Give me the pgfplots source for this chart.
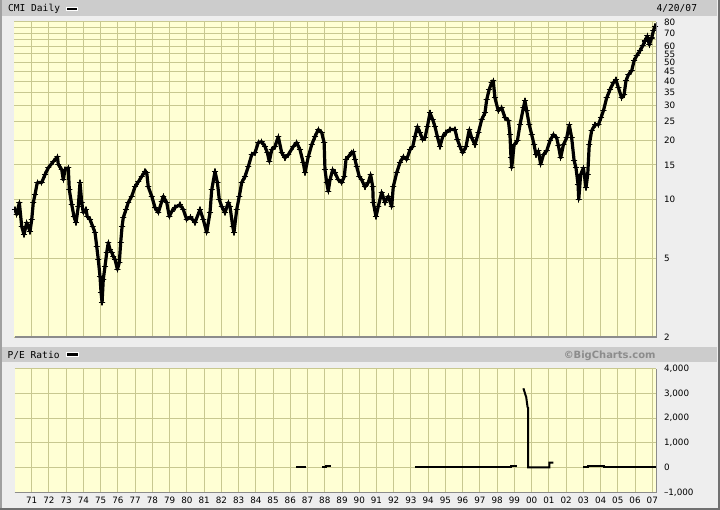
\documentclass[border=0pt]{standalone}
\usepackage{pgfplots}
\pgfplotsset{compat=1.18}
\usepackage{pgfplotstable}
\usepackage{fontspec}
\setmainfont{DejaVu Sans}
\newfontfamily\monofont{DejaVu Sans Mono}
\definecolor{bgcol}{HTML}{EEEEEE}
\definecolor{barcol}{HTML}{CCCCCC}
\definecolor{plotbg}{HTML}{FFFFD4}
\definecolor{gridcol}{HTML}{C8C890}
\definecolor{framecol}{HTML}{8C8C8C}
\definecolor{lborder}{HTML}{A0A0A0}
\definecolor{dborder}{HTML}{707070}
\definecolor{credit}{HTML}{8C8C8C}
\newcommand{\tickfont}{\fontsize{8.8}{10}\selectfont}

\pgfplotstableread{
year price
1970.03 8.90
1970.13 8.39
1970.28 9.66
1970.42 7.29
1970.55 6.64
1970.71 7.64
1970.90 6.88
1971.00 7.92
1971.09 9.66
1971.19 10.6
1971.32 12.2
1971.58 12.2
1971.77 13.4
1971.96 14.5
1972.25 15.6
1972.49 16.5
1972.54 15.1
1972.74 14.2
1972.83 12.6
1972.93 14.2
1973.12 14.5
1973.18 11.2
1973.32 9.43
1973.45 8.20
1973.57 7.64
1973.70 9.21
1973.80 12.2
1973.90 9.66
1973.99 8.59
1974.15 8.90
1974.22 8.20
1974.38 7.92
1974.54 7.29
1974.67 6.80
1974.77 5.77
1974.86 4.96
1974.96 4.06
1975.02 3.37
1975.08 3.00
1975.15 3.93
1975.25 4.57
1975.35 5.38
1975.44 6.05
1975.54 5.57
1975.64 5.38
1975.73 5.14
1975.83 4.96
1975.97 4.41
1976.08 4.79
1976.16 6.05
1976.24 7.29
1976.31 8.10
1976.47 8.90
1976.60 9.66
1976.80 10.4
1976.99 11.6
1977.18 12.3
1977.38 13.1
1977.57 13.9
1977.67 13.7
1977.76 11.6
1977.96 10.4
1978.15 9.11
1978.34 8.59
1978.54 9.77
1978.63 10.4
1978.83 9.66
1978.98 8.20
1979.12 8.69
1979.31 9.11
1979.60 9.43
1979.79 8.90
1979.99 7.92
1980.20 8.15
1980.47 7.64
1980.76 8.90
1980.95 7.92
1981.15 6.80
1981.34 8.59
1981.44 11.2
1981.63 13.9
1981.77 12.2
1981.88 10.0
1982.02 9.21
1982.21 8.59
1982.40 9.66
1982.50 9.21
1982.66 7.29
1982.73 6.80
1982.89 8.90
1983.04 10.4
1983.18 12.2
1983.37 13.1
1983.56 14.7
1983.76 16.9
1983.95 17.3
1984.14 19.5
1984.34 19.7
1984.53 18.6
1984.67 17.3
1984.78 15.6
1984.92 17.9
1985.11 18.6
1985.30 20.9
1985.50 17.3
1985.69 16.3
1985.88 16.9
1986.17 18.6
1986.37 19.5
1986.56 17.9
1986.75 15.4
1986.85 13.7
1987.04 16.5
1987.24 19.0
1987.43 20.9
1987.62 22.7
1987.82 21.9
1987.96 19.5
1988.01 14.2
1988.11 12.2
1988.20 11.0
1988.30 12.6
1988.46 14.2
1988.59 13.7
1988.78 12.6
1988.98 12.2
1989.13 13.1
1989.23 16.0
1989.36 16.5
1989.56 17.3
1989.65 17.5
1989.75 16.0
1989.85 14.7
1990.00 13.1
1990.14 12.6
1990.33 11.6
1990.52 12.2
1990.66 13.4
1990.78 11.6
1990.81 9.66
1990.97 8.20
1991.10 9.21
1991.30 10.9
1991.49 9.66
1991.68 10.4
1991.88 9.21
1991.97 11.6
1992.17 13.7
1992.36 15.4
1992.55 16.5
1992.75 16.0
1992.94 17.9
1993.10 18.6
1993.23 20.9
1993.37 23.5
1993.52 21.9
1993.68 20.2
1993.81 20.6
1993.95 23.5
1994.10 27.6
1994.26 25.5
1994.39 23.5
1994.53 20.9
1994.68 18.6
1994.84 20.9
1995.03 21.9
1995.26 22.7
1995.55 22.7
1995.69 20.2
1995.84 18.6
1996.00 17.3
1996.19 18.6
1996.38 22.7
1996.52 20.6
1996.71 19.0
1996.91 21.9
1997.10 25.5
1997.29 27.6
1997.39 32.2
1997.53 36.2
1997.68 39.3
1997.77 40.2
1997.87 32.9
1998.06 28.3
1998.26 29.3
1998.45 26.1
1998.65 25.2
1998.74 21.4
1998.80 16.3
1998.84 14.5
1998.98 19.0
1999.17 19.9
1999.32 24.0
1999.52 29.3
1999.61 31.8
1999.71 28.3
1999.86 24.0
2000.00 21.4
2000.14 19.0
2000.25 16.9
2000.39 17.7
2000.52 15.1
2000.68 16.9
2000.87 17.7
2001.06 19.9
2001.26 21.4
2001.45 20.6
2001.55 18.8
2001.68 16.3
2001.84 19.0
2002.03 20.6
2002.18 24.0
2002.32 20.6
2002.46 15.8
2002.57 14.5
2002.69 11.9
2002.73 10.0
2002.84 13.4
2003.00 14.5
2003.15 11.5
2003.25 13.4
2003.34 19.0
2003.48 22.4
2003.67 24.0
2003.87 24.0
2004.02 26.1
2004.16 28.3
2004.35 32.9
2004.54 36.2
2004.74 39.3
2004.89 40.7
2005.03 37.0
2005.22 32.9
2005.36 34.1
2005.47 40.2
2005.61 43.1
2005.80 45.2
2005.94 50.8
2006.09 53.8
2006.28 57.1
2006.44 60.5
2006.57 64.1
2006.71 68.0
2006.82 61.2
2006.96 66.4
2007.06 72.1
2007.15 76.0
}\pricedata

\pgfplotsset{
  bcpanel/.style={
    scale only axis, width=641.3bp,
    xmin=1970.0, xmax=2007.2,
    axis background/.style={fill=plotbg},
    axis line style={draw=none},
    xtick={1971,1972,...,2007},
    grid=major, grid style={gridcol, line width=1bp},
    major tick length=0pt,
    yticklabel pos=right,
    yticklabel style={anchor=west, xshift=8bp, font=\tickfont, inner sep=0pt},
    xticklabel style={anchor=base, yshift=-10.8bp, font=\tickfont, inner sep=0pt},
  }
}

\begin{document}
\begin{tikzpicture}
\path[use as bounding box] (0,0) rectangle (720bp,-510bp);
\fill[bgcol] (0,0) rectangle (720bp,-510bp);
\fill[barcol] (2bp,0) rectangle (717bp,-16bp);
\fill[barcol] (2bp,-346.7bp) rectangle (717bp,-361.7bp);
\draw[lborder, line width=2bp] (1bp,0) -- (1bp,-510bp);
\draw[dborder, line width=2.5bp] (0,-508.75bp) -- (718.75bp,-508.75bp) -- (718.75bp,0);

% headers
\node[anchor=base west, inner sep=0pt] at (8bp,-11.7bp) {\monofont\fontsize{9.6}{10}\selectfont CMI Daily};
\fill[white] (65.7bp,-6.7bp) rectangle (77.7bp,-11.2bp);
\fill[black] (66.7bp,-7.7bp) rectangle (76.7bp,-10.2bp);
\node[anchor=base west, inner sep=0pt] at (656.5bp,-11.8bp) {\monofont\fontsize{9.6}{10}\selectfont 4/20/07};

\node[anchor=base west, inner sep=0pt] at (7.5bp,-358bp) {\monofont\fontsize{9.6}{10}\selectfont P/E Ratio};
\fill[white] (66bp,-352bp) rectangle (78.5bp,-357bp);
\fill[black] (67bp,-353bp) rectangle (77.5bp,-356bp);
\node[anchor=base east, inner sep=0pt, text=credit] at (655.7bp,-358bp) {\bfseries\fontsize{10}{11}\selectfont ©BigCharts.com};

% price panel
\begin{axis}[bcpanel,
  at={(14.5bp,-22bp)}, anchor=north west, height=315bp,
  ymode=log, log basis y=10, ymin=2, ymax=80,
  xticklabels={},
  ytick={2,5,10,15,20,25,30,35,40,45,50,55,60,65,70,75,80},
  yticklabels={2,5,10,15,20,25,30,35,40,45,50,55,60,,70,,80},
  minor ytick={},
]
\addplot[black, line width=3.2bp, line join=round, line cap=round,
  mark=+, mark size=2.6bp, mark options={line width=1.2bp}] table[x=year, y=price]{\pricedata};
\end{axis}

% P/E panel
\begin{axis}[bcpanel,
  at={(14.5bp,-368.5bp)}, anchor=north west, height=124bp,
  ymin=-1000, ymax=4000,
  ytick={-1000,0,1000,2000,3000,4000},
  yticklabels={{–1,000},{0},{1,000},{2,000},{3,000},{4,000}},
  xticklabels={71,72,73,74,75,76,77,78,79,80,81,82,83,84,85,86,87,88,89,90,91,92,93,94,95,96,97,98,99,00,01,02,03,04,05,06,07},
]
\addplot[black, line width=2bp] coordinates {(1986.33,45) (1986.89,45)};
\addplot[black, line width=2bp] coordinates {(1987.86,20) (1988.05,20) (1988.05,70) (1988.34,70)};
\addplot[black, line width=2bp] coordinates {(1993.23,15) (1998.82,15) (1998.82,60) (1999.13,60)};
\addplot[black, line width=2bp] coordinates {(1999.52,3200) (1999.58,3070) (1999.64,2930) (1999.68,2860) (1999.72,2650) (1999.76,2450) (1999.80,2400) (1999.80,15) (2001.02,15) (2001.02,200) (2001.26,200)};
\addplot[black, line width=2bp] coordinates {(2003.00,15) (2003.27,15) (2003.27,60) (2004.20,60) (2004.20,15) (2007.2,15)};
\end{axis}

% panel frames
\draw[framecol, line width=1.5bp] (14.5bp,-337.2bp) -- (656.5bp,-337.2bp) -- (656.5bp,-22bp);
\draw[framecol, line width=1.5bp] (14.5bp,-492.7bp) -- (656.5bp,-492.7bp) -- (656.5bp,-368.5bp);
\end{tikzpicture}
\end{document}
